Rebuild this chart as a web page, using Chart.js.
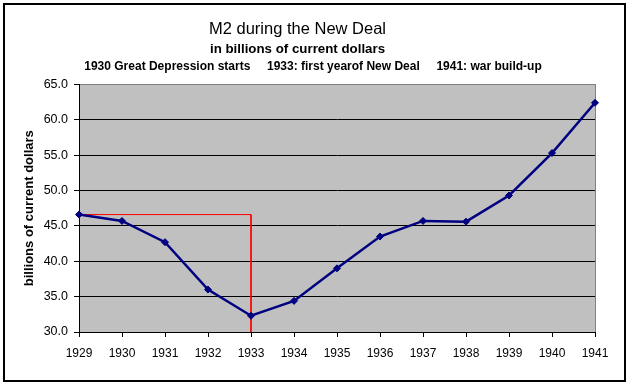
<!DOCTYPE html>
<html>
<head>
<meta charset="utf-8">
<script src="https://cdn.jsdelivr.net/npm/chart.js@4/dist/chart.umd.min.js"></script>
<style>
  html, body { margin: 0; padding: 0; background: #ffffff; }
  #wrap { position: absolute; left: 0; top: 0; width: 629px; height: 384px; }
</style>
</head>
<body>
<div id="wrap"><canvas id="c" width="629" height="384"></canvas></div>
<script>
const years = ['1929','1930','1931','1932','1933','1934','1935','1936','1937','1938','1939','1940','1941'];
const m2Values = [46.6, 45.7, 42.7, 36.0, 32.3, 34.4, 39.0, 43.5, 45.7, 45.6, 49.3, 55.3, 62.4];
const refX = ['1929', '1933', '1933'];
const refY = [46.6, 46.6, 30.0];
const titleText = 'M2 during the New Deal';
const subtitleText = 'in billions of current dollars';
const noteText = '1930 Great Depression starts     1933: first yearof New Deal     1941: war build-up';
const yAxisTitle = 'billions of current dollars';
const yMin = 30, yMax = 65, yStep = 5;

const FONT = "'Liberation Sans', Arial, sans-serif";

const framePlugin = {
  id: 'frame',
  beforeDraw(chart) {
    const {ctx, chartArea: a} = chart;
    ctx.save();
    ctx.fillStyle = '#ffffff';
    ctx.fillRect(0, 0, chart.width, chart.height);
    ctx.fillStyle = '#C0C0C0';
    ctx.fillRect(a.left, a.top, a.right - a.left, a.bottom - a.top);
    ctx.strokeStyle = '#808080';
    ctx.lineWidth = 1;
    ctx.strokeRect(Math.round(a.left) + 0.5, Math.round(a.top) + 0.5, Math.round(a.right - a.left), Math.round(a.bottom - a.top));
    ctx.restore();
  },
  afterDraw(chart) {
    const {ctx} = chart;
    ctx.save();
    ctx.fillStyle = '#000000';
    ctx.font = "bold 12px " + FONT;
    ctx.textAlign = 'center';
    ctx.textBaseline = 'middle';
    ctx.fillText(noteText, 313, 67);
    ctx.strokeStyle = '#000000';
    ctx.lineWidth = 2;
    ctx.strokeRect(4, 4, 621, 377);
    ctx.restore();
  }
};

new Chart(document.getElementById('c'), {
  type: 'line',
  data: {
    labels: years,
    datasets: [
      {
        label: 'M2',
        data: m2Values,
        borderColor: '#000080',
        backgroundColor: '#000080',
        borderWidth: 2.5,
        pointStyle: 'rectRot',
        pointRadius: 3.5,
        pointBackgroundColor: '#000080',
        pointBorderColor: '#000080',
        pointBorderWidth: 1,
        tension: 0,
        order: 0
      },
      {
        label: 'reference',
        data: refX.map((x, i) => ({x: x, y: refY[i]})),
        borderColor: '#FF0000',
        borderWidth: 1,
        pointRadius: 0,
        tension: 0,
        order: 1
      }
    ]
  },
  options: {
    responsive: false,
    animation: false,
    devicePixelRatio: 1,
    layout: { padding: { top: 0, left: 0, right: 34, bottom: 0 } },
    plugins: {
      legend: { display: false },
      tooltip: { enabled: false },
      title: {
        display: true,
        text: titleText,
        color: '#000000',
        font: { family: FONT, size: 16.5, weight: 'normal', lineHeight: 1.2 },
        padding: { top: 20, bottom: 0 }
      },
      subtitle: {
        display: true,
        text: subtitleText,
        color: '#000000',
        font: { family: FONT, size: 13.3, weight: 'bold', lineHeight: 1.4 },
        padding: { top: 0, bottom: 26 }
      }
    },
    scales: {
      x: {
        type: 'category',
        offset: false,
        grid: { drawOnChartArea: false, drawTicks: true, tickLength: 5, color: '#000000', tickColor: '#000000' },
        border: { display: true, color: '#000000', width: 1 },
        ticks: { color: '#000000', font: { family: FONT, size: 12 }, padding: 9, maxRotation: 0, autoSkip: false },
        afterFit(scale) { scale.height = 52; }
      },
      y: {
        min: yMin,
        max: yMax,
        grid: {
          color: (ctx) => (ctx.tick && ctx.tick.value === yMax) ? '#808080' : '#000000',
          tickColor: '#000000',
          tickLength: 5,
          lineWidth: 1
        },
        border: { display: true, color: '#000000', width: 1 },
        ticks: {
          stepSize: yStep,
          color: '#000000',
          font: { family: FONT, size: 12.5 },
          padding: 6,
          callback: (v) => Number(v).toFixed(1)
        },
        title: {
          display: true,
          text: yAxisTitle,
          color: '#000000',
          font: { family: FONT, size: 13, weight: 'bold', lineHeight: 1.2 },
          padding: { top: 22, bottom: 0 }
        },
        afterFit(scale) { scale.width = 79; }
      }
    }
  },
  plugins: [framePlugin]
});
</script>
</body>
</html>
